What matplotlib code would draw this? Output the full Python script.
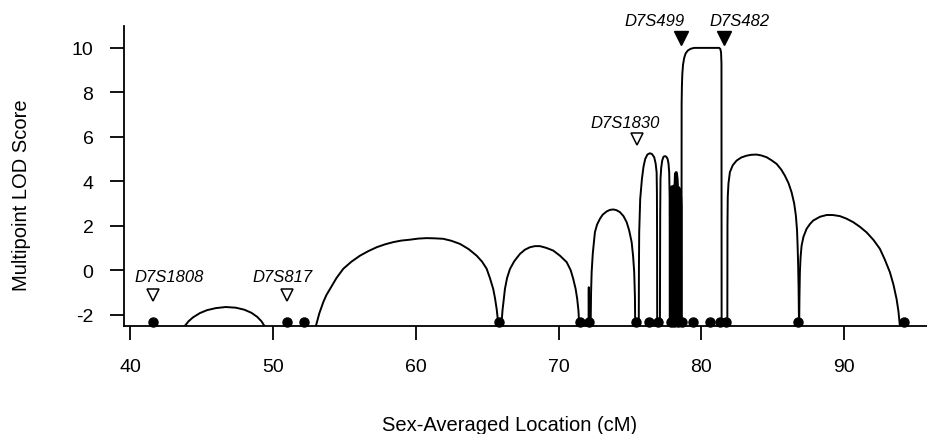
import matplotlib
matplotlib.use("Agg")
import matplotlib.pyplot as plt

plt.rcParams['font.family'] = ['Liberation Sans', 'DejaVu Sans']

# ---- LOD curve segments (cM, LOD) ----
arch_a_x = [43.85, 44.1, 44.4, 44.9, 45.4, 46.0, 46.7, 47.4, 48.0, 48.5, 48.9, 49.2, 49.4]
arch_a_y = [-2.5, -2.3, -2.13, -1.93, -1.8, -1.71, -1.66, -1.69, -1.78, -1.92, -2.1, -2.3, -2.5]

arch_b_x = [53.02, 53.25, 53.53, 53.75, 54.0, 54.45, 54.93, 55.5, 56.1, 56.7, 57.27, 57.85, 58.43,
            59.0, 59.6, 60.2, 60.77, 61.35, 61.93, 62.5, 63.1, 63.7, 64.27, 64.65, 64.97, 65.2,
            65.43, 65.55, 65.67, 65.73, 65.78]
arch_b_y = [-2.5, -1.95, -1.44, -1.12, -0.85, -0.36, 0.06, 0.38, 0.65, 0.86, 1.03, 1.16, 1.26,
            1.33, 1.37, 1.42, 1.44, 1.43, 1.41, 1.32, 1.18, 0.95, 0.65, 0.38, 0.06, -0.36,
            -0.85, -1.25, -1.75, -2.1, -2.5]

arch_c_x = [66.0, 66.08, 66.17, 66.25, 66.4, 66.6, 66.9, 67.3, 67.65, 68.0, 68.35, 68.7, 69.15,
            69.63, 70.1, 70.57, 70.85, 71.03, 71.2, 71.31, 71.4, 71.45]
arch_c_y = [-2.5, -1.8, -1.3, -0.84, -0.35, 0.05, 0.4, 0.73, 0.92, 1.03, 1.08, 1.08, 1.0,
            0.88, 0.65, 0.36, 0.0, -0.39, -0.85, -1.3, -1.85, -2.5]

spike_x = [72.1, 72.12, 72.14]
spike_y = [-2.5, -0.77, -2.5]

arch_d_x = [72.25, 72.28, 72.32, 72.4, 72.55, 72.7, 72.9, 73.1, 73.37, 73.6, 73.83, 74.05, 74.3,
            74.55, 74.77, 74.95, 75.12, 75.22, 75.3, 75.35, 75.37]
arch_d_y = [-2.5, -1.0, -0.09, 0.75, 1.71, 2.05, 2.31, 2.5, 2.64, 2.71, 2.73, 2.7, 2.61,
            2.43, 2.16, 1.78, 1.26, 0.65, -0.09, -1.2, -2.5]

arch_e_x = [75.62, 75.63, 75.65, 75.72, 75.84, 75.95, 76.07, 76.22, 76.4, 76.55, 76.7, 76.8,
            76.87, 76.89, 76.9, 76.91]
arch_e_y = [-2.5, 0.0, 1.71, 3.2, 4.1, 4.65, 5.0, 5.2, 5.26, 5.22, 5.08, 4.8,
            4.4, 3.5, 1.7, -2.5]

arch_f_x = [77.1, 77.12, 77.14, 77.19, 77.26, 77.35, 77.45, 77.55, 77.64, 77.7, 77.75, 77.78,
            77.79, 77.8]
arch_f_y = [-2.5, 2.5, 4.1, 4.6, 4.93, 5.1, 5.13, 5.1, 5.0, 4.8, 4.4, 3.3,
            1.7, -2.5]

# dense cluster of very narrow peaks
cl1_x = [77.84, 77.85, 77.9, 77.97, 78.02, 78.03]
cl1_y = [-2.5, 3.0, 3.72, 3.75, 3.3, -2.5]
cl2_x = [78.04, 78.05, 78.09, 78.13, 78.14]
cl2_y = [-2.5, 3.4, 3.78, 3.6, -2.5]
cl3_x = [78.15, 78.16, 78.2, 78.24, 78.29, 78.33, 78.34]
cl3_y = [-2.5, 3.6, 4.3, 4.38, 4.1, 3.5, -2.5]
cl4_x = [78.36, 78.37, 78.42, 78.47, 78.48]
cl4_y = [-2.5, 3.3, 3.7, 3.5, -2.5]
cl5_x = [78.5, 78.51, 78.54, 78.57, 78.58]
cl5_y = [-2.5, 3.0, 3.3, 2.9, -2.5]

arch_g_x = [78.61, 78.62, 78.64, 78.67, 78.72, 78.8, 78.9, 79.05, 79.25, 79.5, 81.25, 81.33,
            81.38, 81.41, 81.42]
arch_g_y = [-2.5, 7.5, 8.3, 8.85, 9.25, 9.55, 9.75, 9.88, 9.96, 10.0, 10.0, 9.95,
            9.8, 9.3, -2.5]

arch_h_x = [81.82, 81.83, 81.85, 81.9, 82.0, 82.2, 82.47, 82.8, 83.17, 83.5, 83.87, 84.2, 84.57,
            84.9, 85.27, 85.6, 85.85, 86.1, 86.32, 86.5, 86.62, 86.7, 86.74, 86.78, 86.81, 86.84]
arch_h_y = [-2.5, 2.0, 3.3, 3.9, 4.41, 4.72, 4.93, 5.07, 5.15, 5.19, 5.2, 5.16, 5.08,
            4.95, 4.78, 4.52, 4.25, 3.92, 3.5, 3.0, 2.45, 1.8, 1.1, 0.2, -0.85, -2.5]

arch_i_x = [86.85, 86.87, 86.9, 86.95, 87.02, 87.15, 87.37, 87.6, 87.83, 88.3, 88.77, 89.2, 89.7,
            90.15, 90.63, 91.1, 91.57, 92.05, 92.5, 92.85, 93.2, 93.45, 93.67, 93.8, 93.9]
arch_i_y = [-2.5, -1.2, -0.09, 0.6, 1.1, 1.5, 1.86, 2.07, 2.23, 2.4, 2.48, 2.48, 2.43,
            2.32, 2.16, 1.95, 1.7, 1.36, 0.96, 0.47, -0.09, -0.65, -1.3, -1.85, -2.5]

segments = [
    (arch_a_x, arch_a_y), (arch_b_x, arch_b_y), (arch_c_x, arch_c_y),
    (spike_x, spike_y), (arch_d_x, arch_d_y), (arch_e_x, arch_e_y),
    (arch_f_x, arch_f_y), (arch_g_x, arch_g_y),
    (arch_h_x, arch_h_y), (arch_i_x, arch_i_y),
]
cluster_segments = [(cl1_x, cl1_y), (cl2_x, cl2_y), (cl3_x, cl3_y),
                    (cl4_x, cl4_y), (cl5_x, cl5_y)]

# ---- genotyped marker positions (dots) ----
marker_pos = [41.63, 51.0, 52.2, 65.85, 71.5, 72.15, 75.4, 76.35, 76.97,
              77.85, 78.1, 78.4, 78.65, 79.4, 80.6, 81.3, 81.75, 86.8, 94.2]
marker_y = -2.34

# ---- named markers ----
open_names = ["D7S1808", "D7S817", "D7S1830"]
open_pos = [41.63, 51.01, 75.47]
open_y = [-1.1, -1.1, 5.9]
open_label_x = [42.73, 50.66, 74.65]
open_label_y = [-0.28, -0.28, 6.66]

filled_names = ["D7S499", "D7S482"]
filled_pos = [78.57, 81.58]
filled_y = [10.44, 10.44]
filled_label_x = [76.69, 82.65]
filled_label_y = [11.23, 11.23]

xticks = [40, 50, 60, 70, 80, 90]
yticks = [-2, 0, 2, 4, 6, 8, 10]

fig = plt.figure(figsize=(9.27, 4.35), dpi=100)
ax = fig.add_axes([0.1338, 0.249, 0.8662, 0.6897])

for sx, sy in segments:
    ax.plot(sx, sy, color='black', lw=1.4, solid_joinstyle='round', zorder=2)
for sx, sy in cluster_segments:
    ax.plot(sx, sy, color='black', lw=2.4, solid_joinstyle='round', zorder=2)

ax.plot(marker_pos, [marker_y] * len(marker_pos), 'o', color='black',
        markersize=6.5, zorder=3, clip_on=False)

ax.plot(open_pos, open_y, 'v', markerfacecolor='white', markeredgecolor='black',
        markersize=9, markeredgewidth=1.1, linestyle='none', zorder=3, clip_on=False)
ax.plot(filled_pos, filled_y, 'v', color='black', markersize=10,
        linestyle='none', zorder=3, clip_on=False)

for name, lx, ly in zip(open_names, open_label_x, open_label_y):
    ax.text(lx, ly, name, style='italic', fontsize=12, ha='center', va='center', clip_on=False)
for name, lx, ly in zip(filled_names, filled_label_x, filled_label_y):
    ax.text(lx, ly, name, style='italic', fontsize=12, ha='center', va='center', clip_on=False)

ax.set_xlim(39.58, 95.8)
ax.set_ylim(-2.5, 11.0)
ax.set_xticks(xticks)
ax.set_yticks(yticks)
ax.set_xticklabels([str(t) for t in xticks])
ax.set_yticklabels([str(t) for t in yticks])

for s in ['top', 'right']:
    ax.spines[s].set_visible(False)
for s in ['left', 'bottom']:
    ax.spines[s].set_linewidth(1.3)

ax.tick_params(axis='x', direction='out', length=10, width=1.3, pad=13, labelsize=14)
ax.tick_params(axis='y', direction='out', length=10, width=1.3, pad=12, labelsize=14)

fig.text(0.0234, 0.5517, "Multipoint LOD Score", rotation=90, ha='center', va='center', fontsize=14.5)
fig.text(0.550, 0.0218, "Sex-Averaged Location (cM)", ha='center', va='center', fontsize=14.5)

fig.savefig("out.png", dpi=100)
